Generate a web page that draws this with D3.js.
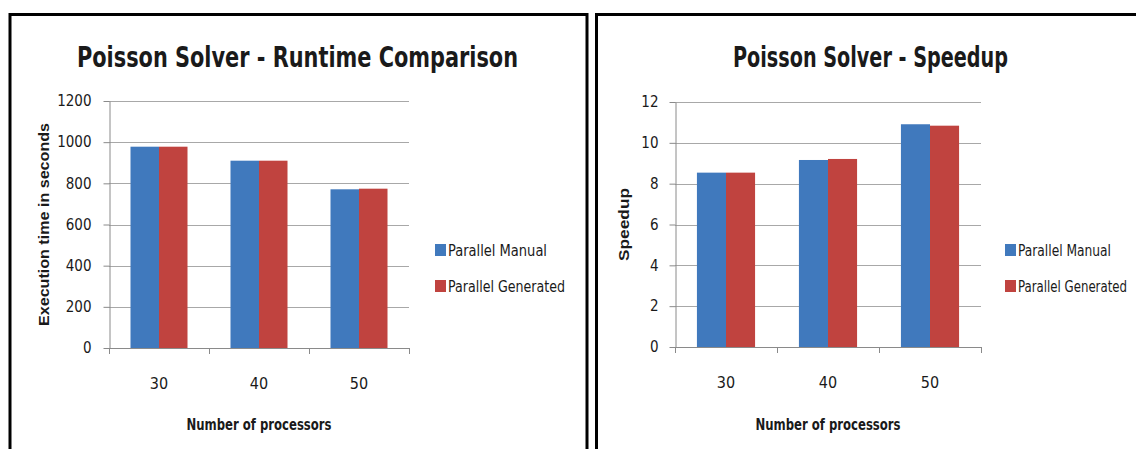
<!DOCTYPE html>
<html>
<head>
<meta charset="utf-8">
<script src="https://cdn.jsdelivr.net/npm/d3@7"></script>
<style>
  body { margin: 0; background: #fff; }
  svg { display: block; }
  text { font-family: "Liberation Sans Narrow", "Arial Narrow", "DejaVu Sans Condensed", sans-serif; fill: #1a1a1a; }
</style>
</head>
<body>
<svg id="canvas" width="1136" height="449"></svg>
<script>
// values
let processors = ["30", "40", "50"]
let seriesNames = ["Parallel Manual", "Parallel Generated"]
let runtimeManual = [978, 910, 771]
let runtimeGenerated = [978, 910, 774]
let speedupManual = [8.54, 9.16, 10.91]
let speedupGenerated = [8.54, 9.21, 10.84]
let runtimeTicks = [0, 200, 400, 600, 800, 1000, 1200]
let speedupTicks = [0, 2, 4, 6, 8, 10, 12]

let colors = ["#4079bd", "#c0433f"]
let canvas = d3.select('#canvas')

let drawChart = (opt) => {
    let g = canvas.append('g')

    // panel frame (bottom runs off the picture)
    g.append('path')
        .attr('d', 'M' + opt.frame[0] + ',470V14.5H' + opt.frame[1] + 'V470')
        .attr('fill', 'none')
        .attr('stroke', '#000')
        .attr('stroke-width', 3)

    let x = d3.scaleBand()
        .domain(processors)
        .range([opt.plot[0], opt.plot[1]])
        .paddingInner(0.43)
        .paddingOuter(0.215)
    let xs = d3.scaleBand()
        .domain(seriesNames)
        .range([0, x.bandwidth()])
    let y = d3.scaleLinear()
        .domain([0, opt.ticks[opt.ticks.length - 1]])
        .range([opt.plot[3], opt.plot[2]])

    // gridlines
    g.selectAll('.grid')
        .data(opt.ticks.slice(1))
        .enter()
        .append('line')
        .attr('x1', opt.plot[0])
        .attr('x2', opt.plot[1])
        .attr('y1', d => Math.round(y(d)) + 0.5)
        .attr('y2', d => Math.round(y(d)) + 0.5)
        .attr('stroke', '#a8a8a8')

    // bars
    let rows = processors.map((p, i) => ({ p: p, vals: [opt.manual[i], opt.generated[i]] }))
    g.selectAll('.grp')
        .data(rows)
        .enter()
        .append('g')
        .attr('transform', d => 'translate(' + x(d.p) + ',0)')
        .selectAll('rect')
        .data(d => d.vals.map((v, k) => ({ s: seriesNames[k], v: v, k: k })))
        .enter()
        .append('rect')
        .attr('x', d => xs(d.s))
        .attr('width', xs.bandwidth())
        .attr('y', d => y(d.v))
        .attr('height', d => y(0) - y(d.v))
        .attr('fill', d => colors[d.k])

    // y axis
    let yAxis = g.append('g')
        .attr('transform', 'translate(' + (opt.plot[0] + 0.5) + ',0)')
        .call(d3.axisLeft(y).tickValues(opt.ticks).tickFormat(d3.format('d'))
            .tickSize(6).tickPadding(opt.yPad).tickSizeOuter(0))
    yAxis.select('.domain').attr('stroke', '#8a8a8a')
    yAxis.selectAll('.tick line').attr('stroke', '#8a8a8a')
    yAxis.selectAll('text')
        .attr('font-size', 15)
        .attr('font-family', null)
        .attr('fill', '#1a1a1a')

    // x axis: line, boundary ticks, category labels
    g.append('line')
        .attr('x1', opt.plot[0])
        .attr('x2', opt.plot[1])
        .attr('y1', y(0) + 0.5)
        .attr('y2', y(0) + 0.5)
        .attr('stroke', '#8a8a8a')
    g.selectAll('.xtick')
        .data(d3.range(processors.length + 1))
        .enter()
        .append('line')
        .attr('x1', i => Math.round(opt.plot[0] + i * x.step()) + 0.5)
        .attr('x2', i => Math.round(opt.plot[0] + i * x.step()) + 0.5)
        .attr('y1', y(0))
        .attr('y2', y(0) + 6)
        .attr('stroke', '#8a8a8a')
    let xAxis = g.append('g')
        .attr('transform', 'translate(0,' + y(0) + ')')
        .call(d3.axisBottom(x).tickSize(0).tickPadding(30))
    xAxis.select('.domain').remove()
    xAxis.selectAll('text')
        .attr('font-size', 16)
        .attr('font-family', null)
        .attr('fill', '#1a1a1a')

    // titles
    g.append('text')
        .attr('x', opt.titleX)
        .attr('y', 67)
        .attr('text-anchor', 'middle')
        .attr('font-size', 28)
        .attr('font-weight', 'bold')
        .attr('textLength', opt.titleLen)
        .attr('lengthAdjust', 'spacingAndGlyphs')
        .text(opt.title)

    g.append('text')
        .attr('x', (opt.plot[0] + opt.plot[1]) / 2)
        .attr('y', 430)
        .attr('text-anchor', 'middle')
        .attr('font-size', 16)
        .attr('font-weight', 'bold')
        .attr('textLength', 145)
        .attr('lengthAdjust', 'spacingAndGlyphs')
        .text('Number of processors')

    g.append('text')
        .attr('transform', 'translate(' + opt.yTitleX + ',' + (opt.plot[2] + opt.plot[3]) / 2 + ') rotate(-90)')
        .attr('text-anchor', 'middle')
        .attr('dominant-baseline', 'central')
        .style('font-family', '"Liberation Sans", Arial, sans-serif')
        .attr('font-size', 15)
        .attr('font-weight', 'bold')
        .attr('textLength', opt.yTitleLen)
        .attr('lengthAdjust', 'spacingAndGlyphs')
        .text(opt.yTitle)

    // legend
    let leg = g.selectAll('.leg')
        .data(seriesNames)
        .enter()
        .append('g')
        .attr('transform', (d, i) => 'translate(' + opt.legendX + ',' + (250 + i * 36) + ')')
    leg.append('rect')
        .attr('x', 0)
        .attr('y', -6)
        .attr('width', 11)
        .attr('height', 12)
        .attr('fill', (d, i) => colors[i])
    leg.append('text')
        .attr('x', 13)
        .attr('y', 0)
        .attr('dominant-baseline', 'central')
        .attr('font-size', 16)
        .attr('textLength', (d, i) => opt.legendLens[i])
        .attr('lengthAdjust', 'spacingAndGlyphs')
        .text(d => d)
}

drawChart({
    frame: [10, 587],
    plot: [109, 409, 101, 348],
    ticks: runtimeTicks,
    manual: runtimeManual,
    generated: runtimeGenerated,
    title: 'Poisson Solver - Runtime Comparison',
    titleX: 297.5,
    titleLen: 441,
    yTitle: 'Execution time in seconds',
    yTitleX: 43,
    yTitleLen: 203,
    yPad: 12,
    legendX: 435,
    legendLens: [99, 117]
})

drawChart({
    frame: [596.5, 1150],
    plot: [675, 981, 102, 347],
    ticks: speedupTicks,
    manual: speedupManual,
    generated: speedupGenerated,
    title: 'Poisson Solver - Speedup',
    titleX: 870.5,
    titleLen: 275,
    yTitle: 'Speedup',
    yTitleX: 623,
    yTitleLen: 73,
    yPad: 11,
    legendX: 1005,
    legendLens: [93, 109]
})
</script>
</body>
</html>
